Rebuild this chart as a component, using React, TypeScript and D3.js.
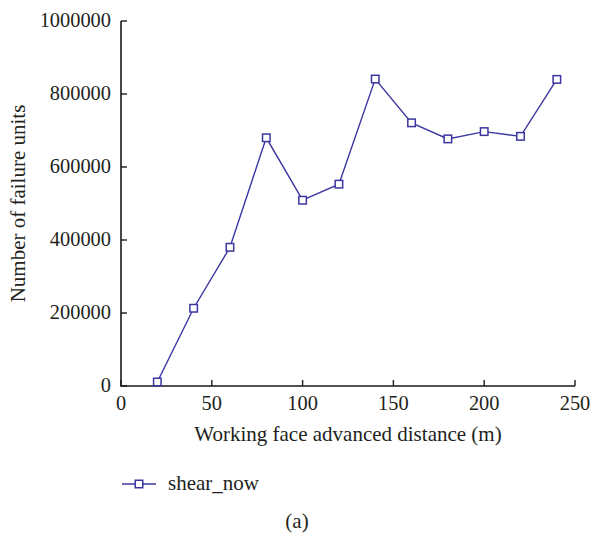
import React from "react";
import * as d3 from "d3";

const distances = [20, 40, 60, 80, 100, 120, 140, 160, 180, 200, 220, 240];
const shearNow = [11000, 213000, 380000, 680000, 509000, 553000, 841000, 721000, 677000, 697000, 684000, 840000];
const xTicks = [0, 50, 100, 150, 200, 250];
const yTicks = [0, 200000, 400000, 600000, 800000, 1000000];
const seriesName = "shear_now";
const xTitle = "Working face advanced distance (m)";
const yTitle = "Number of failure units";
const caption = "(a)";

const W = 592;
const H = 536;
const left = 121;
const right = 575;
const top = 21;
const bottom = 386;
const FONT = "'Liberation Serif', 'Times New Roman', serif";
const TEXT = "#231f20";
const LINE = "#3b36a0";
const FS_TICK = 20.4;
const FS = 21;

export default function App() {
  const x = d3.scaleLinear().domain([0, 250]).range([left, right]);
  const y = d3.scaleLinear().domain([0, 1000000]).range([bottom, top]);
  const line = d3
    .line<number>()
    .x((_, i) => x(distances[i]))
    .y((d) => y(d));
  const pathD = line(shearNow) || "";
  const ms = 7.5;

  return (
    <svg
      width={W}
      height={H}
      style={{ position: "absolute", left: 0, top: 0, background: "#fff" }}
      fontFamily={FONT}
    >
      <rect x={0} y={0} width={W} height={H} fill="#fff" />
      <path
        d={`M${left},${top}V${bottom}H${right}`}
        fill="none"
        stroke="#1a1a1a"
        strokeWidth={1.6}
      />
      {yTicks.map((t) => (
        <g key={"y" + t}>
          <line x1={left} x2={left + 6} y1={y(t)} y2={y(t)} stroke="#1a1a1a" strokeWidth={1.4} />
          <text x={111} y={y(t) + 6} textAnchor="end" fontSize={FS_TICK} fill={TEXT}>
            {t}
          </text>
        </g>
      ))}
      {xTicks.map((t) => (
        <g key={"x" + t}>
          <line x1={x(t)} x2={x(t)} y1={bottom} y2={bottom - 6} stroke="#1a1a1a" strokeWidth={1.4} />
          <text x={x(t)} y={409.5} textAnchor="middle" fontSize={FS_TICK} fill={TEXT}>
            {t}
          </text>
        </g>
      ))}
      <text x={(left + right) / 2} y={441} textAnchor="middle" fontSize={FS} fill={TEXT}>
        {xTitle}
      </text>
      <text
        transform={`translate(25,${(top + bottom) / 2}) rotate(-90)`}
        textAnchor="middle"
        fontSize={FS}
        fill={TEXT}
      >
        {yTitle}
      </text>
      <path d={pathD} fill="none" stroke={LINE} strokeWidth={1.4} />
      {shearNow.map((v, i) => (
        <rect
          key={"m" + i}
          x={x(distances[i]) - ms / 2}
          y={y(v) - ms / 2}
          width={ms}
          height={ms}
          fill="#fff"
          stroke={LINE}
          strokeWidth={1.5}
        />
      ))}
      <line x1={122} x2={156} y1={484} y2={484} stroke={LINE} strokeWidth={1.4} />
      <rect x={139 - ms / 2} y={484 - ms / 2} width={ms} height={ms} fill="#fff" stroke={LINE} strokeWidth={1.5} />
      <text x={168} y={490} fontSize={FS} fill={TEXT}>
        {seriesName}
      </text>
      <text x={297} y={528} textAnchor="middle" fontSize={FS} fill={TEXT}>
        {caption}
      </text>
    </svg>
  );
}
